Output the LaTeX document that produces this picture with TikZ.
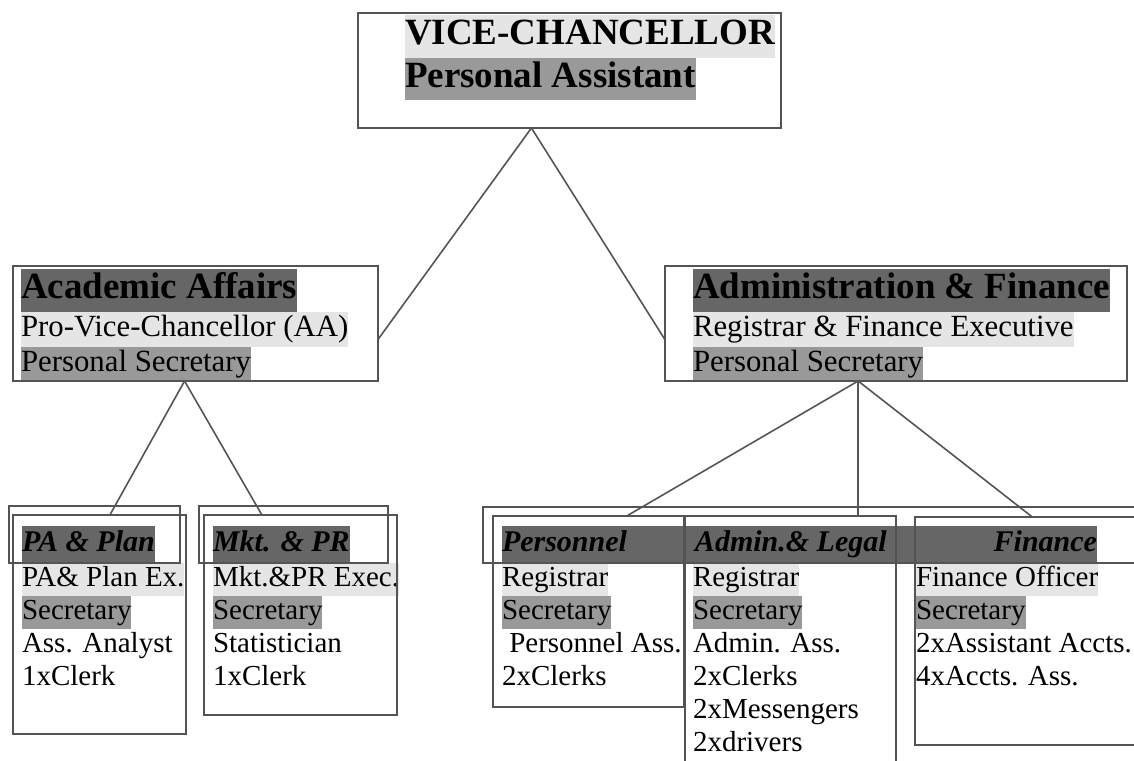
\documentclass[tikz,border=0pt]{standalone}
\usepackage{fontspec}
\setmainfont{Liberation Serif}
\usepackage{tikz}
\usetikzlibrary{calc}
\definecolor{hlDark}{gray}{0.4}
\definecolor{hlMid}{gray}{0.6}
\definecolor{hlLight}{gray}{0.9}
\definecolor{lineC}{gray}{0.33}
\setlength{\fboxsep}{0pt}
\renewcommand{\arraystretch}{0}
\newcommand{\orgHead}{\fontsize{18.5}{21.25}\selectfont\bfseries}
\newcommand{\orgBody}{\fontsize{15.4}{17.5}\selectfont}
\newcommand{\orgSub}{\fontsize{15}{18.5}\selectfont\bfseries\itshape}
\newcommand{\orgSmall}{\fontsize{14.5}{16.5}\selectfont}
\newcommand{\hlrow}[3]{\colorbox{#1}{#2\strut#3}}
\newcommand{\txtrow}[2]{#1\strut#2}

\begin{document}
\begin{tikzpicture}[x=0.5pt,y=-0.5pt,
  box/.style={draw=lineC,line width=0.8pt,inner sep=0pt,outer sep=0pt,anchor=north west},
  txt/.style={inner sep=0pt,outer sep=0pt,anchor=north west},
  link/.style={draw=lineC,line width=0.8pt}]
\useasboundingbox (0,0) rectangle (1134,760);

\node[txt] (vct) at (405,15) {\begin{tabular}{@{}l@{}}
\hlrow{hlLight}{\orgHead}{VICE-CHANCELLOR}\\
\hlrow{hlMid}{\orgHead}{Personal Assistant}
\end{tabular}};
\node[txt] (aat) at (21,269) {\begin{tabular}{@{}l@{}}
\hlrow{hlDark}{\orgHead}{Academic Affairs}\\
\hlrow{hlLight}{\orgBody}{Pro-Vice-Chancellor (AA)}\\
\hlrow{hlMid}{\orgBody}{Personal Secretary}
\end{tabular}};
\node[txt] (adft) at (693,269) {\begin{tabular}{@{}l@{}}
\hlrow{hlDark}{\orgHead}{Administration \& Finance}\\
\hlrow{hlLight}{\orgBody}{Registrar \& Finance Executive}\\
\hlrow{hlMid}{\orgBody}{Personal Secretary}
\end{tabular}};
\node[txt] (pat) at (22,526) {\begin{tabular}{@{}l@{}}
\hlrow{hlDark}{\orgSub}{PA \& Plan}\\
\hlrow{hlLight}{\orgSmall}{PA\& Plan Ex.}\\
\hlrow{hlMid}{\orgSmall}{Secretary}\\
\txtrow{\orgSmall}{Ass. Analyst}\\
\txtrow{\orgSmall}{1xClerk}
\end{tabular}};
\node[txt] (mktt) at (213,526) {\begin{tabular}{@{}l@{}}
\hlrow{hlDark}{\orgSub}{Mkt. \& PR}\\
\hlrow{hlLight}{\orgSmall}{Mkt.\&PR Exec.}\\
\hlrow{hlMid}{\orgSmall}{Secretary}\\
\txtrow{\orgSmall}{Statistician}\\
\txtrow{\orgSmall}{1xClerk}
\end{tabular}};
\node[txt] (band) at (502,526) {\colorbox{hlDark}{\orgSub\strut\makebox[297.5pt][l]{\makebox[96.5pt][l]{Personnel}Admin.\& Legal\hfill Finance}}};
\node[txt] (pert) at (502,563) {\begin{tabular}{@{}l@{}}
\hlrow{hlLight}{\orgSmall}{Registrar}\\
\hlrow{hlMid}{\orgSmall}{Secretary}\\
\txtrow{\orgSmall}{\ Personnel Ass.}\\
\txtrow{\orgSmall}{2xClerks}
\end{tabular}};
\node[txt] (admt) at (693,563) {\begin{tabular}{@{}l@{}}
\hlrow{hlLight}{\orgSmall}{Registrar}\\
\hlrow{hlMid}{\orgSmall}{Secretary}\\
\txtrow{\orgSmall}{Admin. Ass.}\\
\txtrow{\orgSmall}{2xClerks}\\
\txtrow{\orgSmall}{2xMessengers}\\
\txtrow{\orgSmall}{2xdrivers}
\end{tabular}};
\node[txt] (fint) at (916,563) {\begin{tabular}{@{}l@{}}
\hlrow{hlLight}{\orgSmall}{Finance Officer}\\
\hlrow{hlMid}{\orgSmall}{Secretary}\\
\txtrow{\orgSmall}{2xAssistant Accts.}\\
\txtrow{\orgSmall}{4xAccts. Ass.}
\end{tabular}};

\node[box,minimum width=211.5pt,minimum height=57.5pt] (vc) at (358,13) {};
\node[box,minimum width=182.5pt,minimum height=57.5pt] (aa) at (13,266) {};
\node[box,minimum width=231pt,minimum height=57.5pt] (adf) at (665,266) {};
\node[box,minimum width=85.5pt,minimum height=28.5pt] (pahd) at (9,506) {};
\node[box,minimum width=86.5pt,minimum height=109.5pt] (pam) at (13,515) {};
\node[box,minimum width=94.5pt,minimum height=28.5pt] (mkthd) at (199,506) {};
\node[box,minimum width=96.5pt,minimum height=100pt] (mktm) at (204,515) {};
\node[box,minimum width=328.5pt,minimum height=28pt] (rhd) at (483,507) {};
\node[box,minimum width=95.5pt,minimum height=95.5pt] (perm) at (493,516) {};
\node[box,minimum width=105.5pt,minimum height=130pt] (adm) at (685,516) {};
\node[box,minimum width=115pt,minimum height=114pt] (finm) at (915,517) {};

\coordinate (vcb) at ($(vc.south west)!0.41!(vc.south east)$);
\draw[link] (vcb) -- (aa.-5);
\draw[link] (vcb) -- (adf.184);
\coordinate (aab) at ($(aa.south west)!0.47!(aa.south east)$);
\draw[link] (aab) -- ($(pam.north west)!0.56!(pam.north east)$);
\draw[link] (aab) -- ($(mktm.north west)!0.3!(mktm.north east)$);
\coordinate (adfb) at ($(adf.south west)!0.418!(adf.south east)$);
\draw[link] (adfb) -- ($(perm.north west)!0.7!(perm.north east)$);
\draw[link] (adfb) -- (adfb |- adm.north);
\draw[link] (adfb) -- ($(finm.north west)!0.51!(finm.north east)$);
\end{tikzpicture}
\end{document}
